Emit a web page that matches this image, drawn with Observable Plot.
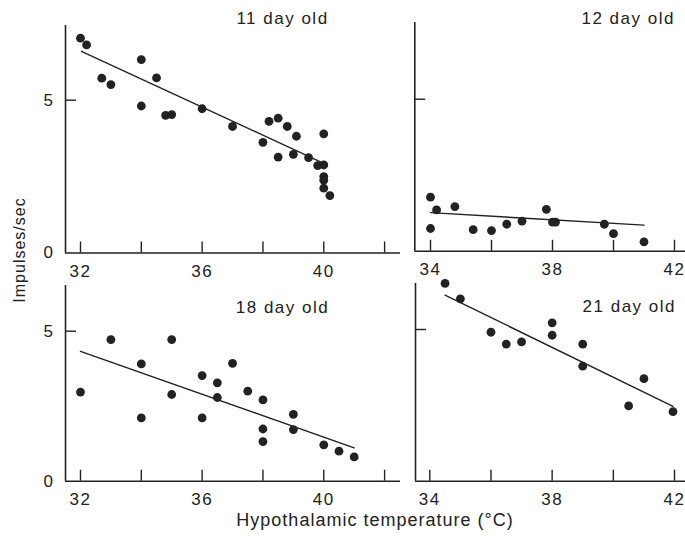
<!DOCTYPE html>
<html><head><meta charset="utf-8">
<script src="https://cdn.jsdelivr.net/npm/d3@7"></script>
<script src="https://cdn.jsdelivr.net/npm/@observablehq/plot@0.6"></script>
<style>
body{margin:0;background:#fff;}
#wrap{position:relative;width:685px;height:539px;font-family:"Liberation Sans",Arial,sans-serif;color:#222;}
#wrap svg{position:absolute;left:0;top:0;}
.ytitle{position:absolute;left:19.5px;top:250px;transform:translate(-50%,-50%) rotate(-90deg);font-size:16px;letter-spacing:1px;white-space:nowrap;}
.xtitle{position:absolute;left:375px;top:520px;transform:translate(-50%,-50%);font-size:18px;letter-spacing:1px;white-space:nowrap;}
</style></head>
<body><div id="wrap"><div class="ytitle">Impulses/sec</div><div class="xtitle">Hypothalamic temperature (°C)</div></div>
<script>
// ---- data ----
const t11 = [32.0, 32.2, 32.7, 33.0, 34.0, 34.0, 34.5, 34.8, 35.0, 36.0, 37.0, 38.0, 38.2, 38.5, 38.5, 38.8, 39.1, 39.0, 39.5, 39.8, 40.0, 40.0, 40.0, 40.0, 40.0, 40.2];
const r11 = [7.03, 6.81, 5.72, 5.51, 6.33, 4.81, 5.73, 4.50, 4.53, 4.72, 4.14, 3.62, 4.31, 4.41, 3.14, 4.14, 3.82, 3.23, 3.12, 2.86, 2.88, 3.90, 2.50, 2.38, 2.12, 1.88];
const fitT11 = [32.03, 40.05];
const fitR11 = [6.60, 2.91];

const t12 = [34.0, 34.2, 34.0, 34.8, 35.4, 36.0, 36.5, 37.0, 37.8, 38.0, 38.1, 39.7, 40.0, 41.0];
const r12 = [1.78, 1.36, 0.75, 1.47, 0.71, 0.68, 0.89, 0.99, 1.38, 0.96, 0.96, 0.89, 0.58, 0.31];
const fitT12 = [34.0, 41.0];
const fitR12 = [1.27, 0.86];

const t18 = [32.0, 33.0, 34.0, 34.0, 35.0, 35.0, 36.0, 36.0, 36.5, 36.5, 37.0, 37.5, 38.0, 38.0, 38.0, 39.0, 39.0, 40.0, 40.5, 41.0];
const r18 = [2.97, 4.72, 3.91, 2.11, 4.72, 2.89, 3.52, 2.11, 3.28, 2.79, 3.93, 3.00, 2.71, 1.74, 1.32, 2.23, 1.72, 1.21, 1.00, 0.81];
const fitT18 = [32.0, 41.0];
const fitR18 = [4.33, 1.11];

const t21 = [34.5, 35.0, 36.0, 36.5, 37.0, 38.0, 38.0, 39.0, 39.0, 40.5, 41.0, 41.95];
const r21 = [6.52, 6.01, 4.91, 4.52, 4.59, 5.22, 4.81, 4.52, 3.79, 2.48, 3.38, 2.29];
const fitT21 = [34.5, 41.95];
const fitR21 = [6.13, 2.47];

const titles = ["11 day old", "12 day old", "18 day old", "21 day old"];
const tickMarksA = [32, 34, 36, 38, 40, 42];
const tickLabelsA = [32, 36, 40];
const tickMarksB = [34, 36, 38, 40, 42];
const tickLabelsB = [34, 38, 42];
const yTickMarks = [5];
const yTickLabels = [0, 5];

// ---- build ----
const zip = (t, r) => t.map((v, i) => ({t: v, r: r[i]}));
const W = 685, H = 539, ink = "#222";

function panel(o) {
  const innerH = o.base - o.top, innerW = o.right - o.left;
  const marks = [
    Plot.ruleY([0], {stroke: ink, strokeWidth: 1.6}),
    Plot.ruleX([o.xDomain[0]], {stroke: ink, strokeWidth: 1.6}),
    Plot.tickX(o.xTicks, {x: d => d, stroke: ink, strokeWidth: 1.4, insetTop: innerH - 11}),
    Plot.tickY(yTickMarks, {y: d => d, stroke: ink, strokeWidth: 1.4, insetRight: innerW - 11}),
    Plot.axisX(o.xLabels, {tickSize: 0, tickPadding: 12, fontSize: 17, label: null}),
    Plot.line(o.fit, {x: "t", y: "r", stroke: ink, strokeWidth: 1.4}),
    Plot.dot(o.pts, {x: "t", y: "r", r: 4.4, fill: ink, stroke: null}),
    Plot.text([o.title], {text: d => d, frameAnchor: "top-left", dx: o.tdx, dy: o.tdy, textAnchor: "middle", lineAnchor: "middle", fontSize: 17, fill: ink})
  ];
  if (o.yLabels) marks.push(Plot.axisY(yTickLabels, {tickSize: 0, tickPadding: 11, fontSize: 17, label: null}));
  return Plot.plot({
    width: W, height: H,
    marginLeft: o.left, marginRight: W - o.right, marginTop: o.top, marginBottom: H - o.base,
    x: {domain: o.xDomain, label: null},
    y: {domain: o.yDomain, label: null, axis: o.yLabels ? undefined : null},
    style: {background: "transparent", fontFamily: "'Liberation Sans', Arial, sans-serif", letterSpacing: "1.5px", color: "#222", overflow: "visible"},
    marks
  });
}

const wrap = document.getElementById("wrap");
const panels = [
  {pts: zip(t11, r11), fit: zip(fitT11, fitR11), title: titles[0], left: 65, right: 400, top: 25, base: 252.5,
   xDomain: [31.507, 42.523], yDomain: [0, 7.444], xTicks: tickMarksA, xLabels: tickLabelsA, yLabels: true, tdx: 217, tdy: -7},
  {pts: zip(t12, r12), fit: zip(fitT12, fitR12), title: titles[1], left: 414.3, right: 685, top: 22, base: 250.8,
   xDomain: [33.485, 42.361], yDomain: [0, 7.523], xTicks: tickMarksB, xLabels: tickLabelsB, yLabels: false, tdx: 213.4, tdy: -4},
  {pts: zip(t18, r18), fit: zip(fitT18, fitR18), title: titles[2], left: 65, right: 400, top: 285, base: 480.7,
   xDomain: [31.507, 42.523], yDomain: [0, 6.523], xTicks: tickMarksA, xLabels: tickLabelsA, yLabels: true, tdx: 217, tdy: 22},
  {pts: zip(t21, r21), fit: zip(fitT21, fitR21), title: titles[3], left: 415, right: 685, top: 283, base: 480.7,
   xDomain: [33.533, 42.359], yDomain: [0, 6.516], xTicks: tickMarksB, xLabels: tickLabelsB, yLabels: false, tdx: 213.8, tdy: 23}
];
for (const p of panels) wrap.appendChild(panel(p));
</script>
</body></html>
